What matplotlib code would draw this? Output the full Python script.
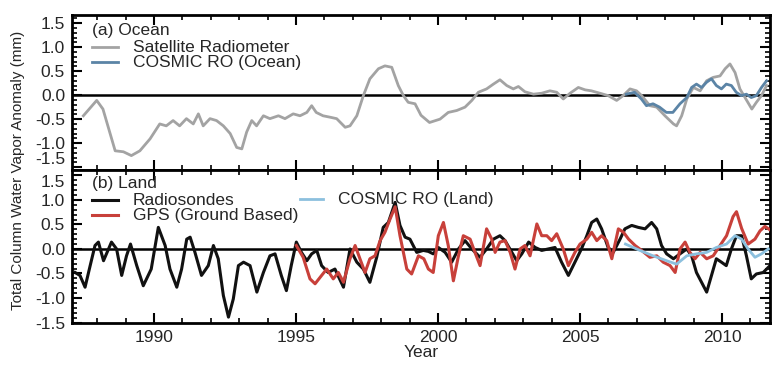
import numpy as np
import matplotlib
matplotlib.use("Agg")
from matplotlib import pyplot as plt
from matplotlib.ticker import MultipleLocator

plt.rcParams['font.family'] = ['Liberation Sans', 'DejaVu Sans']

# (a) Ocean -- satellite radiometer
sat_year = [1987.51, 1987.98, 1988.2, 1988.63, 1988.92, 1989.2, 1989.5, 1989.86, 1990.2, 1990.43,
            1990.67, 1990.9, 1991.14, 1991.38, 1991.56, 1991.73, 1991.97, 1992.2, 1992.44, 1992.68,
            1992.91, 1993.09, 1993.26, 1993.44, 1993.61, 1993.85, 1994.08, 1994.38, 1994.61, 1994.9,
            1995.14, 1995.38, 1995.55, 1995.71, 1995.95, 1996.2, 1996.43, 1996.73, 1996.9, 1997.14,
            1997.37, 1997.6, 1997.9, 1998.13, 1998.37, 1998.6, 1998.78, 1998.95, 1999.19, 1999.4,
            1999.7, 2000.07, 2000.36, 2000.66, 2000.95, 2001.19, 2001.42, 2001.71, 2001.95, 2002.18,
            2002.42, 2002.65, 2002.83, 2003.06, 2003.36, 2003.65, 2003.94, 2004.18, 2004.41, 2004.65,
            2004.94, 2005.18, 2005.4, 2005.7, 2005.99, 2006.29, 2006.52, 2006.76, 2006.99, 2007.17,
            2007.46, 2007.7, 2007.99, 2008.29, 2008.4, 2008.58, 2008.76, 2008.99, 2009.23, 2009.46,
            2009.69, 2009.93, 2010.11, 2010.28, 2010.46, 2010.63, 2010.81, 2011.05, 2011.21, 2011.39,
            2011.57]
sat_anom = [-0.43, -0.11, -0.29, -1.16, -1.18, -1.26, -1.16, -0.91, -0.6, -0.64,
            -0.53, -0.64, -0.49, -0.6, -0.39, -0.64, -0.49, -0.53, -0.64, -0.8,
            -1.09, -1.12, -0.77, -0.53, -0.64, -0.43, -0.49, -0.43, -0.49, -0.39,
            -0.43, -0.36, -0.22, -0.36, -0.43, -0.46, -0.49, -0.67, -0.64, -0.43,
            -0.01, 0.34, 0.55, 0.61, 0.58, 0.2, -0.01, -0.15, -0.18, -0.42,
            -0.57, -0.5, -0.36, -0.32, -0.25, -0.11, 0.06, 0.13, 0.23, 0.32,
            0.2, 0.13, 0.18, 0.07, 0.02, 0.04, 0.09, 0.06, -0.08, 0.04,
            0.16, 0.11, 0.09, 0.04, -0.01, -0.11, -0.01, 0.13, 0.09, -0.01,
            -0.22, -0.25, -0.43, -0.6, -0.64, -0.43, -0.08, 0.16, 0.09, 0.3,
            0.37, 0.4, 0.55, 0.65, 0.47, 0.13, -0.05, -0.29, -0.15, -0.01,
            0.2]

# (a) Ocean -- COSMIC RO
cos_o_year = [2006.63, 2006.92, 2007.16, 2007.34, 2007.57, 2007.8, 2008.04, 2008.27, 2008.52, 2008.76,
              2008.93, 2009.1, 2009.28, 2009.46, 2009.63, 2009.8, 2009.98, 2010.15, 2010.33, 2010.5,
              2010.68, 2010.86, 2011.03, 2011.21, 2011.39, 2011.57]
cos_o_anom = [0.02, 0.06, -0.08, -0.22, -0.18, -0.25, -0.36, -0.36, -0.18, -0.05,
              0.16, 0.23, 0.16, 0.27, 0.34, 0.2, 0.13, 0.23, 0.2, 0.06,
              -0.01, 0.02, -0.05, -0.01, 0.16, 0.3]

# (b) Land -- radiosondes
rs_year = [1987.22, 1987.39, 1987.57, 1987.75, 1987.92, 1988.04, 1988.22, 1988.5, 1988.68, 1988.86,
           1989.03, 1989.17, 1989.39, 1989.62, 1989.9, 1990.15, 1990.39, 1990.56, 1990.8, 1990.97,
           1991.15, 1991.27, 1991.44, 1991.67, 1991.91, 1992.09, 1992.26, 1992.44, 1992.62, 1992.79,
           1992.97, 1993.15, 1993.38, 1993.62, 1993.85, 1994.08, 1994.26, 1994.48, 1994.66, 1994.83,
           1995.01, 1995.19, 1995.38, 1995.55, 1995.73, 1995.9, 1996.13, 1996.37, 1996.67, 1996.9,
           1997.14, 1997.37, 1997.6, 1997.84, 1998.07, 1998.25, 1998.49, 1998.66, 1998.84, 1999.01,
           1999.25, 1999.48, 1999.66, 1999.83, 2000.01, 2000.25, 2000.48, 2000.72, 2000.95, 2001.19,
           2001.48, 2001.71, 2001.95, 2002.18, 2002.36, 2002.6, 2002.77, 2002.95, 2003.19, 2003.42,
           2003.65, 2003.88, 2004.12, 2004.35, 2004.59, 2004.82, 2005.05, 2005.24, 2005.41, 2005.59,
           2005.76, 2005.99, 2006.17, 2006.41, 2006.58, 2006.82, 2007.05, 2007.29, 2007.52, 2007.7,
           2007.87, 2008.05, 2008.29, 2008.52, 2008.76, 2008.93, 2009.1, 2009.28, 2009.46, 2009.63,
           2009.8, 2009.98, 2010.15, 2010.33, 2010.51, 2010.69, 2010.86, 2011.03, 2011.21, 2011.45,
           2011.69]
rs_anom = [-0.48, -0.54, -0.78, -0.34, 0.07, 0.14, -0.24, 0.14, 0.0, -0.54,
           -0.14, 0.1, -0.34, -0.75, -0.41, 0.44, 0.07, -0.41, -0.78, -0.41,
           0.2, 0.24, -0.07, -0.54, -0.34, 0.07, -0.2, -0.95, -1.39, -1.02,
           -0.34, -0.27, -0.34, -0.88, -0.48, -0.14, -0.1, -0.54, -0.85, -0.34,
           0.14, -0.07, -0.24, -0.1, -0.03, -0.34, -0.48, -0.41, -0.78, 0.0,
           -0.27, -0.41, -0.68, -0.17, 0.44, 0.54, 0.95, 0.48, 0.24, 0.2,
           -0.07, -0.03, -0.05, -0.1, 0.03, -0.07, -0.27, 0.0, 0.17, 0.0,
           -0.17, 0.0, 0.2, 0.27, 0.17, -0.07, -0.24, -0.1, 0.14, 0.03,
           -0.03, 0.0, 0.03, -0.27, -0.54, -0.27, 0.0, 0.27, 0.54, 0.61,
           0.41, 0.03, -0.07, 0.2, 0.41, 0.48, 0.44, 0.41, 0.54, 0.41,
           0.07, -0.1, -0.2, -0.1, 0.0, -0.14, -0.48, -0.68, -0.88, -0.54,
           -0.2, -0.27, -0.34, 0.0, 0.27, 0.27, -0.14, -0.61, -0.51, -0.48,
           -0.34]

# (b) Land -- ground based GPS
gps_year = [1995.01, 1995.25, 1995.49, 1995.67, 1995.9, 1996.08, 1996.31, 1996.49, 1996.67, 1996.9,
            1997.08, 1997.25, 1997.43, 1997.6, 1997.78, 1997.96, 1998.13, 1998.31, 1998.49, 1998.66,
            1998.9, 1999.07, 1999.31, 1999.5, 1999.66, 1999.83, 2000.01, 2000.19, 2000.36, 2000.54,
            2000.72, 2000.89, 2001.13, 2001.3, 2001.48, 2001.71, 2001.89, 2002.01, 2002.18, 2002.36,
            2002.54, 2002.71, 2002.89, 2003.06, 2003.24, 2003.48, 2003.65, 2003.83, 2004.0, 2004.18,
            2004.41, 2004.59, 2004.82, 2005.0, 2005.24, 2005.41, 2005.59, 2005.76, 2005.94, 2006.12,
            2006.35, 2006.53, 2006.71, 2006.94, 2007.17, 2007.46, 2007.7, 2007.93, 2008.17, 2008.35,
            2008.52, 2008.7, 2008.87, 2009.05, 2009.23, 2009.46, 2009.69, 2009.93, 2010.16, 2010.39,
            2010.51, 2010.69, 2010.92, 2011.16, 2011.34, 2011.51, 2011.69]
gps_anom = [0.07, -0.17, -0.61, -0.71, -0.54, -0.41, -0.61, -0.48, -0.68, -0.2,
            0.07, -0.2, -0.48, -0.2, -0.14, 0.17, 0.34, 0.61, 0.86, 0.27,
            -0.41, -0.51, -0.14, -0.2, -0.41, -0.48, 0.27, 0.54, 0.07, -0.65,
            -0.14, 0.27, 0.2, -0.07, -0.34, 0.41, 0.2, -0.07, 0.14, 0.17,
            -0.07, -0.41, 0.0, 0.07, -0.14, 0.51, 0.27, 0.27, 0.17, 0.31,
            0.0, -0.34, -0.07, 0.1, 0.2, 0.34, 0.17, 0.27, 0.17, -0.2,
            0.41, 0.34, 0.2, 0.07, -0.03, -0.17, -0.14, -0.27, -0.34, -0.48,
            0.0, 0.14, -0.07, -0.2, -0.07, -0.2, -0.14, 0.07, 0.27, 0.66,
            0.76, 0.42, 0.1, 0.2, 0.37, 0.46, 0.39]

# (b) Land -- COSMIC RO
cos_l_year = [2006.6, 2007.11, 2007.57, 2008.05, 2008.4, 2008.76, 2009.1, 2009.46, 2009.8, 2010.16,
              2010.46, 2010.69, 2010.92, 2011.16, 2011.39, 2011.63]
cos_l_anom = [0.1, -0.03, -0.14, -0.24, -0.31, -0.14, -0.1, -0.07, 0.03, 0.1,
              0.27, 0.2, 0.0, -0.17, -0.1, 0.0]

c_sat = '#a3a3a3'
c_cos_o = '#5b84a6'
c_rs = '#111111'
c_gps = '#c8403a'
c_cos_l = '#8cc0de'
txt = '#262626'

W, H = 778, 365
fig = plt.figure(figsize=(W / 100, H / 100), dpi=100)
x0, x1 = 72, 770
ax1 = fig.add_axes([x0 / W, 1 - 170 / H, (x1 - x0) / W, 155 / H])
ax2 = fig.add_axes([x0 / W, 1 - 323 / H, (x1 - x0) / W, 153 / H])

for ax in (ax1, ax2):
    ax.set_xlim(1987.11, 2011.69)
    ax.axhline(0, color='black', lw=1.8, zorder=1)
    ax.xaxis.set_major_locator(MultipleLocator(5))
    ax.xaxis.set_minor_locator(MultipleLocator(1))
    ax.yaxis.set_major_locator(MultipleLocator(0.5))
    ax.yaxis.set_minor_locator(MultipleLocator(0.1))
    ax.tick_params(which='both', direction='in', top=True, right=True, color='black')
    ax.tick_params(which='major', length=7, width=1.5, labelsize=12.5, labelcolor=txt, pad=5)
    ax.tick_params(which='minor', length=3.5, width=1.2)
    for s in ax.spines.values():
        s.set_linewidth(2)

ax1.set_ylim(-1.56, 1.67)
ax2.set_ylim(-1.51, 1.61)
ax1.set_yticks([-1.5, -1.0, -0.5, 0.0, 0.5, 1.0, 1.5])
ax2.set_yticks([-1.5, -1.0, -0.5, 0.0, 0.5, 1.0, 1.5])
ax1.tick_params(labelbottom=False)

ax1.plot(sat_year, sat_anom, color=c_sat, lw=2, zorder=2)
ax1.plot(cos_o_year, cos_o_anom, color=c_cos_o, lw=2, zorder=3)

ax2.plot(rs_year, rs_anom, color=c_rs, lw=2.2, zorder=2)
ax2.plot(gps_year, gps_anom, color=c_gps, lw=2.2, zorder=3)
ax2.plot(cos_l_year, cos_l_anom, color=c_cos_l, lw=2, zorder=4)

ax1.set_yticklabels(['-1.5', '-1.0', '-0.5', '0.0', '0.5', '1.0', '1.5'])
ax2.set_yticklabels(['-1.5', '-1.0', '-0.5', '0.0', '0.5', '1.0', '1.5'])
for t in ax1.get_yticklabels():
    if t.get_text() == '-1.5':
        t.set_va('bottom')
for t in ax2.get_yticklabels():
    if t.get_text() == '1.5':
        t.set_va('top')


def fx(px):
    return (px - x0) / (x1 - x0)


def key(ax, ytop, h, px_line, px_text, py, label, color, lw):
    fy = (ytop - py) / h
    ax.plot([fx(px_line[0]), fx(px_line[1])], [fy, fy], color=color, lw=lw,
            transform=ax.transAxes, clip_on=False)
    ax.text(fx(px_text), fy, label, transform=ax.transAxes, fontsize=12.5,
            color=txt, va='center', ha='left')


ax1.text(fx(92), (170 - 30) / 155, '(a) Ocean', transform=ax1.transAxes,
         fontsize=12.5, color=txt, va='center', ha='left')
key(ax1, 170, 155, (92, 118), 133, 47, 'Satellite Radiometer', c_sat, 2)
key(ax1, 170, 155, (92, 118), 133, 62, 'COSMIC RO (Ocean)', c_cos_o, 2)

ax2.text(fx(92), (323 - 183) / 153, '(b) Land', transform=ax2.transAxes,
         fontsize=12.5, color=txt, va='center', ha='left')
key(ax2, 323, 153, (92, 118), 133, 200, 'Radiosondes', c_rs, 2.2)
key(ax2, 323, 153, (92, 118), 133, 215, 'GPS (Ground Based)', c_gps, 2.2)
key(ax2, 323, 153, (300, 323), 338, 199, 'COSMIC RO (Land)', c_cos_l, 2)

ax2.set_xlabel('Year', fontsize=12.5, color=txt, labelpad=0)
fig.text(18 / W, 1 - 170 / H, 'Total Column Water Vapor Anomaly (mm)', rotation=90,
         fontsize=11, color=txt, va='center', ha='center')

fig.savefig('out.png', dpi=100)
